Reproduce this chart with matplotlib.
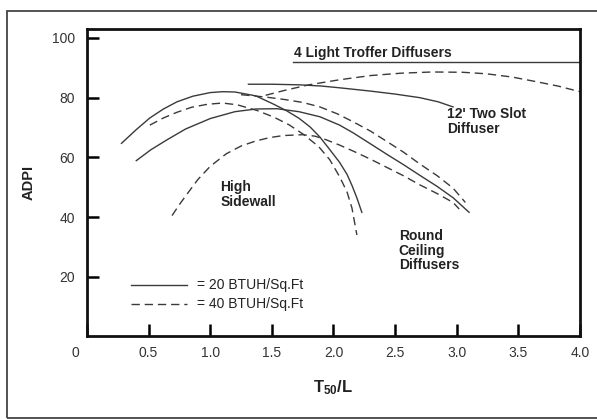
import matplotlib
matplotlib.use('Agg')
import matplotlib.pyplot as plt
from matplotlib.patches import Rectangle
from matplotlib.transforms import ScaledTranslation

plt.rcParams['font.family'] = ['Liberation Sans', 'DejaVu Sans']
plt.rcParams['mathtext.fontset'] = 'custom'
plt.rcParams['mathtext.bf'] = 'Liberation Sans:bold'
plt.rcParams['mathtext.rm'] = 'Liberation Sans'

# High sidewall, 20 and 40 BTUH/Sq.Ft
sidewall_20_x = [0.28, 0.4, 0.51, 0.62, 0.73, 0.86, 1.0, 1.1, 1.2, 1.37, 1.51, 1.62, 1.72, 1.81, 1.89, 1.97, 2.05, 2.11, 2.15, 2.19, 2.23]
sidewall_20_y = [64.7, 69.3, 73.2, 76.2, 78.6, 80.5, 81.7, 82.0, 81.9, 80.6, 77.9, 75.6, 73.1, 70.2, 66.8, 62.6, 58.3, 54.3, 50.6, 46.4, 41.6]
sidewall_40_x = [0.51, 0.62, 0.73, 0.85, 0.98, 1.1, 1.22, 1.38, 1.52, 1.64, 1.76, 1.88, 1.97, 2.05, 2.11, 2.15, 2.19]
sidewall_40_y = [70.8, 73.2, 75.1, 76.8, 77.8, 78.2, 77.6, 75.7, 73.4, 70.9, 67.6, 63.6, 59.2, 53.5, 48.4, 43.0, 34.0]

# round ceiling diffusers
round_20_x = [0.40, 0.52, 0.65, 0.8, 1.0, 1.2, 1.37, 1.54, 1.72, 1.89, 2.05, 2.16, 2.29, 2.43, 2.57, 2.70, 2.84, 2.97, 3.10]
round_20_y = [58.9, 62.6, 65.9, 69.5, 73.0, 75.3, 76.2, 76.3, 75.3, 73.6, 70.8, 68.2, 64.8, 61.1, 57.5, 54.0, 50.3, 46.5, 41.6]
round_40_x = [0.69, 0.75, 0.81, 0.9, 1.0, 1.13, 1.25, 1.37, 1.48, 1.59, 1.75, 1.85, 1.94, 2.05, 2.16, 2.30, 2.43, 2.57, 2.70, 2.84, 2.97, 3.02]
round_40_y = [40.5, 44.2, 47.6, 52.6, 57.0, 61.2, 63.8, 65.5, 66.6, 67.3, 67.6, 67.1, 65.9, 64.1, 62.1, 59.4, 56.7, 53.8, 50.8, 47.9, 44.9, 42.7]

# slot diffusers
slot_20_x = [1.31, 1.5, 1.72, 1.9, 2.05, 2.3, 2.5, 2.7, 2.85, 2.97]
slot_20_y = [84.5, 84.5, 84.3, 83.9, 83.3, 82.2, 81.2, 80.0, 78.6, 76.9]
slot_40_x = [1.25, 1.45, 1.6, 1.75, 1.89, 2.03, 2.16, 2.30, 2.43, 2.57, 2.70, 2.84, 2.97, 3.07]
slot_40_y = [81.0, 80.2, 79.4, 78.4, 76.9, 74.6, 71.9, 68.8, 65.4, 61.7, 57.8, 53.9, 49.7, 44.9]

# light troffer diffusers
troffer_20_x = [1.67, 4.0]
troffer_20_y = [91.8, 91.8]
troffer_40_x = [1.45, 1.6, 1.8, 2.05, 2.3, 2.55, 2.8, 3.05, 3.24, 3.45, 3.64, 3.82, 4.0]
troffer_40_y = [80.8, 82.4, 84.3, 86.0, 87.4, 88.2, 88.6, 88.5, 88.0, 86.9, 85.4, 83.9, 82.0]

legend_x = [0.36, 0.81]
legend_solid_y = [17.3, 17.3]
legend_dash_y = [10.8, 10.8]

xticks = [0, 0.5, 1.0, 1.5, 2.0, 2.5, 3.0, 3.5, 4.0]
xticklabels = ['0', '0.5', '1.0', '1.5', '2.0', '2.5', '3.0', '3.5', '4.0']
yticks = [20, 40, 60, 80, 100]

col = '#3a3a3a'
dash = (0, (6, 3.5))

fig = plt.figure(figsize=(5.97, 4.19), dpi=100)
ax = fig.add_axes([0.1457, 0.1969, 0.8258, 0.7339])

for xs, ys in [(sidewall_20_x, sidewall_20_y), (round_20_x, round_20_y),
               (slot_20_x, slot_20_y), (troffer_20_x, troffer_20_y)]:
    ax.plot(xs, ys, color=col, lw=1.0)
for xs, ys in [(sidewall_40_x, sidewall_40_y), (round_40_x, round_40_y),
               (slot_40_x, slot_40_y), (troffer_40_x, troffer_40_y)]:
    ax.plot(xs, ys, color=col, lw=1.0, linestyle=dash)

# legend drawn by hand like the original
ax.plot(legend_x, legend_solid_y, color=col, lw=1.0)
ax.plot(legend_x, legend_dash_y, color=col, lw=1.0, linestyle=dash)
ax.text(0.89, 17.3, '= 20 BTUH/Sq.Ft', fontsize=10, va='center', color='#222')
ax.text(0.89, 10.8, '= 40 BTUH/Sq.Ft', fontsize=10, va='center', color='#222')

ax.text(1.68, 92.6, '4 Light Troffer Diffusers', fontsize=10, fontweight='bold', va='bottom', color='#222')
ax.text(2.92, 76.8, "12' Two Slot\nDiffuser", fontsize=10, fontweight='bold', va='top', color='#222', linespacing=1.1)
ax.text(1.08, 52.5, 'High\nSidewall', fontsize=10, fontweight='bold', va='top', color='#222', linespacing=1.1)
ax.text(2.53, 36.0, 'Round\nCeiling\nDiffusers', fontsize=10, fontweight='bold', va='top', color='#222', linespacing=1.05)

ax.set_xlim(0, 4.0)
ax.set_ylim(0, 103)
ax.set_xticks(xticks)
ax.set_xticklabels(xticklabels)
ax.set_yticks(yticks)
ax.tick_params(direction='in', length=8.5, width=1.8, labelsize=10, labelcolor='#333')
ax.tick_params(axis='x', pad=7)
ax.tick_params(axis='y', pad=8.5)
for s in ax.spines.values():
    s.set_linewidth(2.0)
    s.set_color('#111')

# the "0" sits a bit left of the corner in the original
lab0 = ax.get_xticklabels()[0]
lab0.set_transform(lab0.get_transform() + ScaledTranslation(-12 / 100, 0, fig.dpi_scale_trans))

ax.set_xlabel(r'$\mathbf{T_{50}/L}$', fontsize=12, labelpad=13, color='#222')
ax.set_ylabel('ADPI', fontsize=10.5, fontweight='bold', labelpad=12, color='#222')

fig.patches.append(Rectangle((7 / 597, 1 / 419), 1.0, 407 / 419, transform=fig.transFigure,
                             fill=False, ec='#444', lw=1.3))

fig.savefig('out.png', dpi=100)
